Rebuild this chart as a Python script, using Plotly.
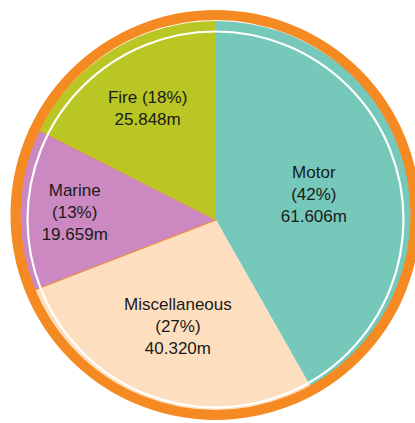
import plotly.graph_objects as go

categories = ["Motor", "Miscellaneous", "Marine", "Fire"]
values = [61.606, 40.320, 19.659, 25.848]
colors = ["#76C9BA", "#FDDFBF", "#CC88C0", "#BAC623"]
templates = [
    "%{label}<br>(%{percent:.0%})<br>%{value:.3f}m",
    "%{label}<br>(%{percent:.0%})<br>%{value:.3f}m",
    "%{label}<br>(%{percent:.0%})<br>%{value:.3f}m",
    "%{label} (%{percent:.0%})<br>%{value:.3f}m",
]

W, H = 415, 423
ORANGE = "#F58A22"

def px_x(v):
    return v / W

def px_y(v):
    return 1 - v / H

# pie geometry in pixels
cx, cy, r = 216, 220, 199

fig = go.Figure(go.Pie(
    labels=categories,
    values=values,
    sort=False,
    direction="clockwise",
    rotation=0,
    marker=dict(colors=colors,
                line=dict(color=[ORANGE] * 4, width=[0, 0, 1, 0])),
    texttemplate=templates,
    textposition="inside",
    insidetextorientation="horizontal",
    textfont=dict(family="Liberation Sans, Arial, sans-serif", size=17, color="#1a1a1a"),
    hoverinfo="label+value+percent",
    domain=dict(x=[px_x(cx - r), px_x(cx + r)], y=[px_y(cy + r), px_y(cy - r)]),
    showlegend=False,
))

# outer orange ring
ocx, ocy, orr = 215.5, 215, 200
fig.add_shape(type="circle", xref="paper", yref="paper",
              x0=px_x(ocx - orr), x1=px_x(ocx + orr),
              y0=px_y(ocy + orr), y1=px_y(ocy - orr),
              line=dict(color=ORANGE, width=10))
# inner white ring
wcx, wcy, wr = 215.5, 219.5, 188
fig.add_shape(type="circle", xref="paper", yref="paper",
              x0=px_x(wcx - wr), x1=px_x(wcx + wr),
              y0=px_y(wcy + wr), y1=px_y(wcy - wr),
              line=dict(color="white", width=2.2))

fig.update_layout(
    width=W, height=H,
    margin=dict(l=0, r=0, t=0, b=0),
    paper_bgcolor="white",
    plot_bgcolor="white",
    uniformtext=dict(minsize=17, mode="show"),
)

fig.write_html("out.html", config={"displayModeBar": False},
               post_script="document.body.style.margin='0';")
